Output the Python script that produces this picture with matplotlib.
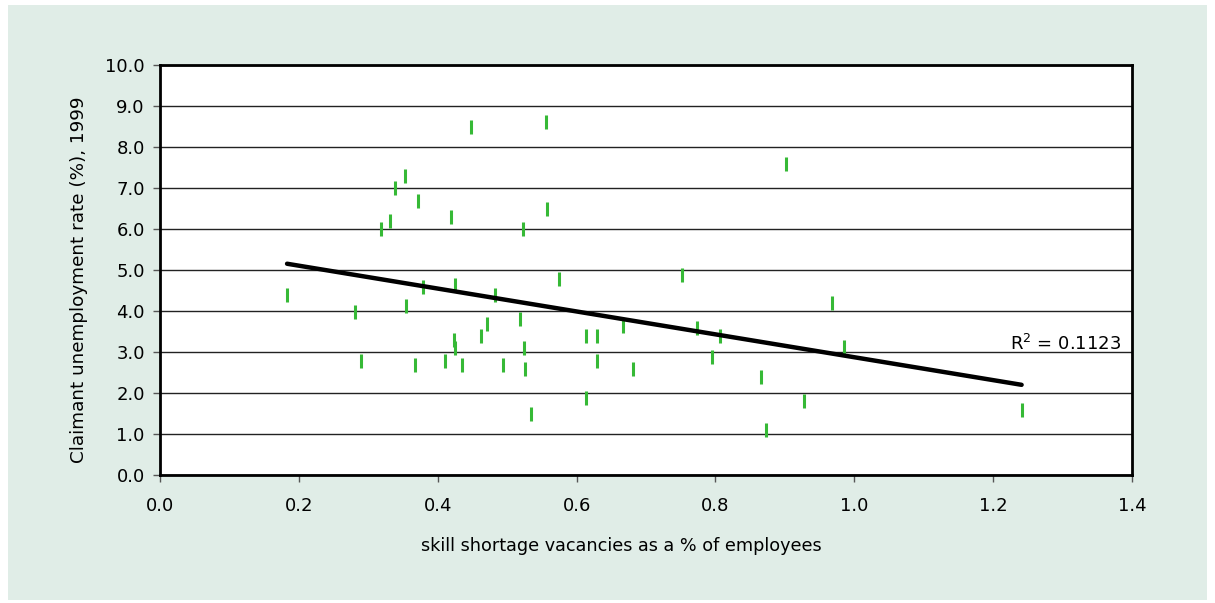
import numpy as np
import matplotlib
matplotlib.use('Agg')
from matplotlib import pyplot as plt
from matplotlib.patches import Rectangle

plt.rcParams['font.family'] = ['DejaVu Sans']

# 数据: 技能短缺空缺率 vs 失业率
vacancy = [0.183, 0.281, 0.289, 0.319, 0.331, 0.339, 0.353, 0.354, 0.368, 0.371,
           0.379, 0.410, 0.419, 0.423, 0.425, 0.425, 0.435, 0.448, 0.462, 0.471,
           0.483, 0.494, 0.518, 0.523, 0.524, 0.526, 0.535, 0.556, 0.557, 0.575,
           0.613, 0.614, 0.629, 0.629, 0.667, 0.681, 0.752, 0.774, 0.795, 0.807,
           0.866, 0.873, 0.902, 0.927, 0.968, 0.985, 1.241]
unemployment = [4.39, 3.98, 2.79, 5.99, 6.19, 6.99, 7.30, 4.11, 2.69, 6.69,
                4.59, 2.79, 6.30, 3.29, 3.09, 4.63, 2.69, 8.50, 3.39, 3.69,
                4.39, 2.69, 3.80, 5.99, 3.09, 2.59, 1.49, 8.60, 6.49, 4.79,
                3.39, 1.89, 3.39, 2.79, 3.64, 2.59, 4.89, 3.59, 2.89, 3.39,
                2.40, 1.09, 7.59, 1.80, 4.19, 3.11, 1.59]
r2_label = 'R$^2$ = 0.1123'
x_ticks = [0.0, 0.2, 0.4, 0.6, 0.8, 1.0, 1.2, 1.4]
y_ticks = [0.0, 1.0, 2.0, 3.0, 4.0, 5.0, 6.0, 7.0, 8.0, 9.0, 10.0]

fig = plt.figure(figsize=(12.15, 6.03), dpi=100, facecolor='white')
bg = Rectangle((8 / 1215, 3 / 603), 1199 / 1215, 595 / 603,
               transform=fig.transFigure, facecolor='#e0ede7',
               edgecolor='none', zorder=-10)
fig.add_artist(bg)
ax = fig.add_axes([160 / 1215, 128 / 603, 972 / 1215, 410 / 603])
ax.set_zorder(1)
ax.set_facecolor('white')

ax.plot(vacancy, unemployment, linestyle='none', marker='|', markersize=9.5,
        markeredgewidth=2.2, color='#36b936', zorder=3)

# 趋势线
x = np.array(vacancy)
y = np.array(unemployment)
k, b = np.polyfit(x, y, 1)
xs = np.array([x.min(), x.max()])
ax.plot(xs, k * xs + b, color='black', linewidth=3.2, solid_capstyle='round', zorder=4)
ax.text(1.305, 3.05, r2_label, fontsize=13, ha='center', va='baseline', zorder=5)

ax.set_xlim(0, 1.4)
ax.set_ylim(0, 10)
ax.set_xticks(x_ticks)
ax.set_yticks(y_ticks)
ax.set_xticklabels([f'{v:.1f}' for v in x_ticks], fontsize=13)
ax.set_yticklabels([f'{v:.1f}' for v in y_ticks], fontsize=13)
ax.grid(axis='y', color='#222222', linewidth=1.0)
ax.set_axisbelow(True)
ax.tick_params(direction='out', length=5, width=1, color='#555555')
ax.tick_params(axis='x', pad=11)
ax.tick_params(axis='y', pad=6)
for s in ax.spines.values():
    s.set_linewidth(2)
    s.set_color('black')

ax.set_xlabel('skill shortage vacancies as a % of employees', fontsize=12.7)
ax.xaxis.set_label_coords(0.475, -0.151)
ax.set_ylabel('Claimant unemployment rate (%), 1999', fontsize=13.2)
ax.yaxis.set_label_coords(-0.0745, 0.476)

fig.savefig('out.png', dpi=100, facecolor=fig.get_facecolor())
